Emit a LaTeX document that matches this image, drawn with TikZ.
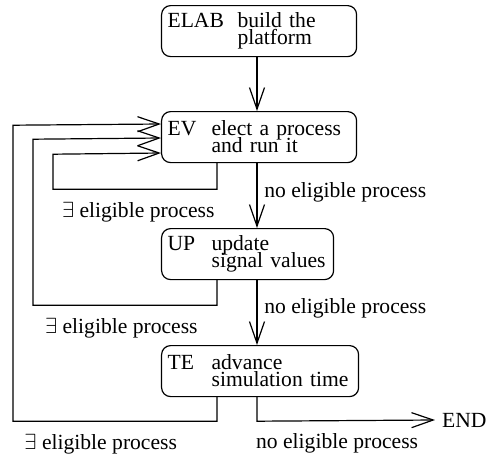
\documentclass[tikz,border=0pt]{standalone}
\usepackage{fontspec}
\setmainfont{Liberation Serif}
\newfontfamily\timesfont{Liberation Serif}
\usetikzlibrary{arrows.meta}
\newcommand{\stagefont}{\timesfont\fontsize{10.8}{8.5}\selectfont\lineskiplimit=-\maxdimen}
\tikzstyle{stage} = [draw, semithick, rounded corners=4.5pt, anchor=north west,
  align=left, inner xsep=3pt, inner ysep=0pt, minimum height=25.5pt,
  font=\stagefont]
\tikzstyle{flow} = [draw, semithick, -{Straight Barb[length=10.8pt,width=7.5pt]}]
\tikzstyle{cond} = [below=6pt, inner sep=0pt]
\tikzstyle{nocond} = [right]
\newcommand{\stage}[6]{node (#1) [stage, text width=#2]
  {\makebox[#3][l]{#4}#5\\\hspace*{#3}#6}}

\begin{document}
\begin{tikzpicture}[x=0.5pt,y=-0.5pt,font=\timesfont\fontsize{10.8}{13}\selectfont]
\useasboundingbox (0,0) rectangle (500,456);

  % Stages
\path (161,5) \stage{elab}{91.5pt}{35pt}{ELAB}{build the}{platform};
\path (161,111) \stage{ev}{91.5pt}{22pt}{EV}{elect a process}{and run it};
\path (161,228) \stage{up}{80pt}{22pt}{UP}{update}{signal values};
\path (161,345) \stage{te}{92.5pt}{22pt}{TE}{advance}{simulation time};
\node (end) [anchor=west] at (435,420) {END};

\coordinate (mainx) at (257,0);
\coordinate (loopx) at (217,0);

  % Forward arrows
\path [flow] (elab.south -| mainx) -- (ev.north -| mainx);
\path [flow] (ev.south -| mainx) -- node [nocond, pos=0.45] {no eligible process} (up.north -| mainx);
\path [flow] (up.south -| mainx) -- node [nocond, pos=0.44] {no eligible process} (te.north -| mainx);
\path [flow] (te.south -| mainx) -- +(0,24) -- node [cond, pos=0.45] {no eligible process} (end.west);

  % Loops back to EV
\path [flow] (ev.south -| loopx) -- +(0,26) -- node [cond, pos=0.48] {$\exists$ eligible process}
  +(-164,26) -- +(-164,-9) -- (ev.west |- 0,153);
\path [flow] (up.south -| loopx) -- +(0,25) -- node [cond, pos=0.52] {$\exists$ eligible process}
  +(-184,25) -- +(-184,-141) -- (ev.west |- 0,138);
\path [flow] (te.south -| loopx) -- +(0,24) -- node [cond, pos=0.57] {$\exists$ eligible process}
  +(-204,24) -- +(-204,-272) -- (ev.west |- 0,124);
\end{tikzpicture}
\end{document}
